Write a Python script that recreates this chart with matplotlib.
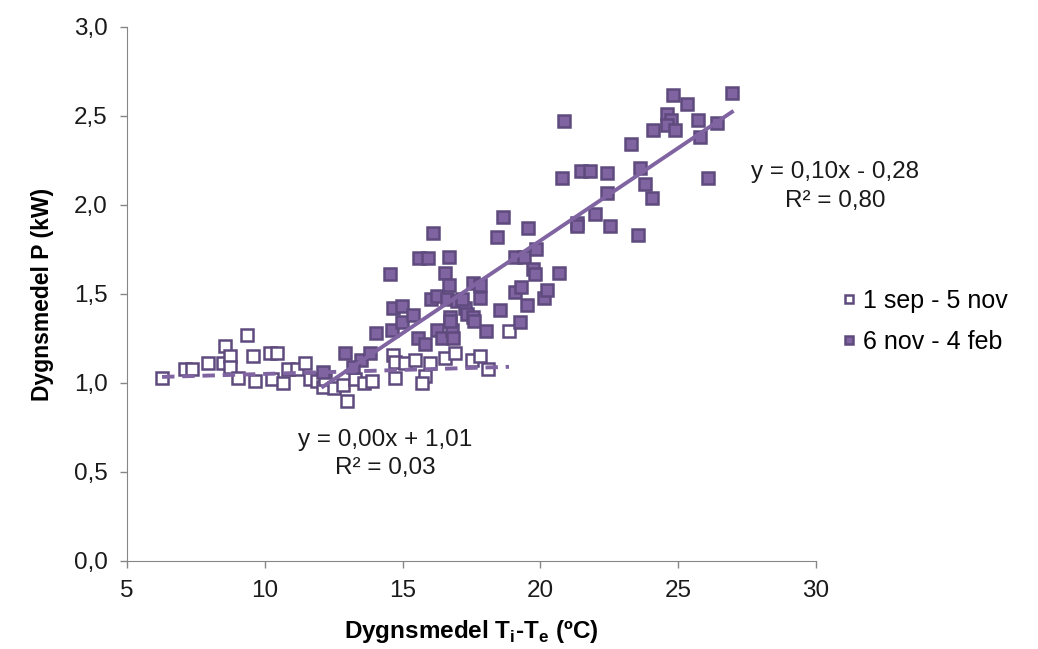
import numpy as np
import matplotlib.pyplot as plt

plt.rcParams['font.family'] = ['Liberation Sans', 'DejaVu Sans']
plt.rcParams['mathtext.fontset'] = 'custom'
plt.rcParams['mathtext.rm'] = 'Liberation Sans'
plt.rcParams['mathtext.bf'] = 'Liberation Sans:bold'

# 1 sep - 5 nov
autumn_dt = [6.27, 7.10, 7.36, 7.94, 8.56, 8.48, 8.74, 8.74, 9.35, 9.57, 9.03, 9.64,
             10.19, 10.44, 10.26, 10.66, 10.84, 11.17, 11.46, 11.63, 11.90, 12.10,
             12.20, 12.50, 12.82, 12.98, 13.26, 13.60, 13.90, 14.65, 14.72, 15.09,
             14.72, 15.45, 16.00, 16.54, 16.90, 17.52, 17.81, 18.10, 15.81, 15.70,
             18.86]
autumn_p = [1.03, 1.08, 1.08, 1.11, 1.21, 1.11, 1.15, 1.09, 1.27, 1.15, 1.03, 1.01,
            1.17, 1.17, 1.02, 1.00, 1.08, 1.08, 1.11, 1.02, 1.01, 0.98,
            1.02, 0.97, 0.99, 0.90, 1.02, 1.00, 1.01, 1.16, 1.12, 1.11,
            1.03, 1.13, 1.11, 1.14, 1.17, 1.13, 1.15, 1.08, 1.04, 1.00,
            1.29]

# 6 nov - 4 feb
winter_dt = [12.11, 12.90, 13.50, 13.82, 13.20, 14.03, 14.60, 14.54, 14.65, 14.98,
             14.98, 15.38, 15.56, 15.81, 15.60, 15.92, 16.10, 16.03, 16.25, 16.25,
             16.43, 16.54, 16.68, 16.68, 16.72, 16.79, 16.83, 16.60, 16.97, 17.26,
             16.72, 17.16, 17.34, 17.55, 17.60, 17.55, 17.80, 17.80, 18.03, 18.43,
             18.53, 18.64, 19.06, 19.08, 19.26, 19.30, 19.40, 19.51, 19.55, 19.73,
             19.80, 19.84, 20.13, 20.24, 20.67, 20.78, 20.86, 21.33, 21.33, 21.47,
             21.80, 21.98, 22.42, 22.42, 22.53, 23.29, 23.54, 23.61, 23.80, 24.05,
             24.09, 24.59, 24.74, 24.59, 24.88, 24.81, 25.32, 25.72, 25.79, 26.08,
             26.41, 26.95]
winter_p = [1.06, 1.17, 1.13, 1.17, 1.09, 1.28, 1.30, 1.61, 1.42, 1.43,
            1.34, 1.38, 1.25, 1.22, 1.70, 1.70, 1.84, 1.47, 1.49, 1.30,
            1.25, 1.62, 1.71, 1.55, 1.37, 1.30, 1.25, 1.47, 1.46, 1.42,
            1.35, 1.47, 1.39, 1.37, 1.35, 1.56, 1.55, 1.48, 1.29, 1.82,
            1.41, 1.93, 1.51, 1.71, 1.34, 1.54, 1.71, 1.44, 1.87, 1.64,
            1.61, 1.75, 1.48, 1.52, 1.62, 2.15, 2.47, 1.90, 1.88, 2.19,
            2.19, 1.95, 2.18, 2.07, 1.88, 2.34, 1.83, 2.21, 2.12, 2.04,
            2.42, 2.51, 2.48, 2.45, 2.42, 2.62, 2.57, 2.48, 2.38, 2.15,
            2.46, 2.63]

# linear trend lines (slope, intercept) and R²
autumn_fit = (0.0045, 1.006)
winter_fit = (0.104, -0.28)
autumn_r2 = 0.03
winter_r2 = 0.80

purple = '#8064A2'
edge = '#5F4A7E'
ink = '#1a1a1a'


def sv(v):
    return f"{v:.2f}".replace('.', ',')


def eq_line(fit):
    a, b = fit
    sign = '-' if b < 0 else '+'
    return f"y = {sv(a)}x {sign} {sv(abs(b))}"


fig = plt.figure(figsize=(10.38, 6.49), dpi=100)
ax = fig.add_axes([0.1224, 0.1356, 0.6637, 0.8228])

ax.plot(autumn_dt, autumn_p, 's', ms=8.3, mfc='white', mec=edge, mew=1.8,
        label='1 sep - 5 nov', zorder=3)
ax.plot(winter_dt, winter_p, 's', ms=8.3, mfc=purple, mec=edge, mew=1.8,
        label='6 nov - 4 feb', zorder=3)

xa = np.array([min(autumn_dt), max(autumn_dt)])
ax.plot(xa, autumn_fit[0] * xa + autumn_fit[1], color=purple, lw=2.8,
        dashes=(3.2, 2.0), zorder=4)
xw = np.array([min(winter_dt), max(winter_dt)])
ax.plot(xw, winter_fit[0] * xw + winter_fit[1], color=purple, lw=2.8, zorder=4)

# trend line equations
ax.text(30.7, 2.185, eq_line(winter_fit), ha='center', va='center',
        fontsize=17.5, color=ink, clip_on=False)
ax.text(30.7, 2.025, f"R² = {sv(winter_r2)}", ha='center', va='center',
        fontsize=17.5, color=ink, clip_on=False)
ax.text(14.36, 0.68, eq_line(autumn_fit), ha='center', va='center',
        fontsize=17.5, color=ink)
ax.text(14.36, 0.52, f"R² = {sv(autumn_r2)}", ha='center', va='center',
        fontsize=17.5, color=ink)

ax.set_xlim(5, 30)
ax.set_ylim(0, 3)
ax.set_xticks([5, 10, 15, 20, 25, 30])
ax.set_yticks(np.arange(0, 3.01, 0.5))
ax.set_yticklabels([sv(v)[:-1] for v in np.arange(0, 3.01, 0.5)])
ax.tick_params(labelsize=17.5, colors='#868686', labelcolor=ink,
               length=5, width=1, direction='out')
ax.tick_params(axis='y', pad=9)
ax.tick_params(axis='x', pad=9)

for s in ['top', 'right']:
    ax.spines[s].set_visible(False)
for s in ['left', 'bottom']:
    ax.spines[s].set_color('#868686')

ax.set_ylabel('Dygnsmedel P (kW)', fontsize=16.5, fontweight='bold', labelpad=14)
ax.set_xlabel(r'Dygnsmedel T$_\mathbf{i}$-T$_\mathbf{e}$ (ºC)', fontsize=17.5,
              fontweight='bold', labelpad=11)

fig.legend(loc='center left', bbox_to_anchor=(0.79, 0.505), frameon=False,
           fontsize=18, markerscale=0.7, handlelength=0.5, handletextpad=0.3,
           labelspacing=0.7)

fig.savefig('out.png', dpi=100)
